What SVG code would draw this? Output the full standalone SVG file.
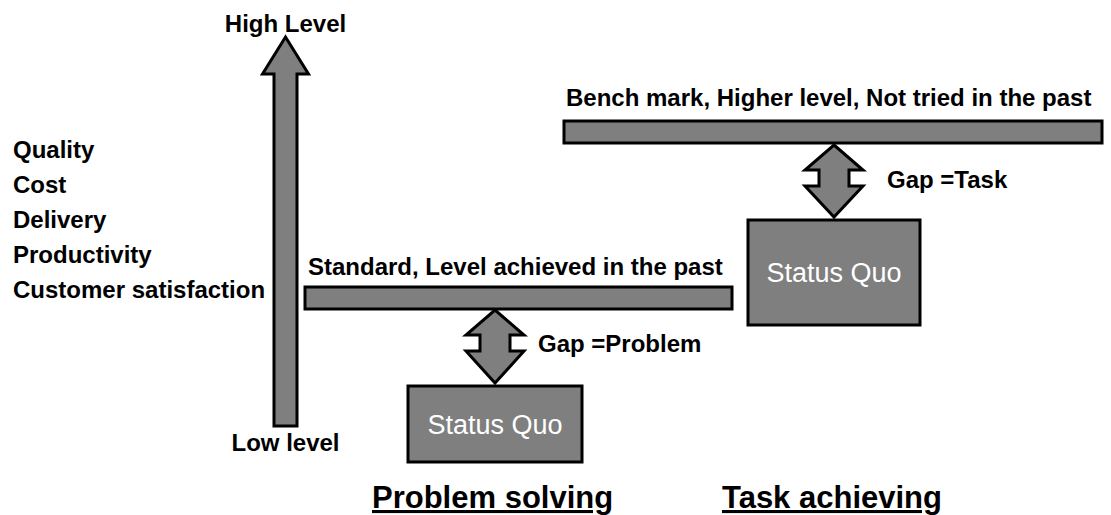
<svg xmlns="http://www.w3.org/2000/svg" width="1111" height="515" viewBox="0 0 1111 515">
<style>
.shape{fill:#7f7f7f;stroke:#000;stroke-width:3;stroke-linejoin:miter}
.lbl{font-family:"Liberation Sans",Arial,sans-serif;font-weight:bold;font-size:24px;fill:#000}
.sq{font-family:"Liberation Sans",Arial,sans-serif;font-size:27px;fill:#fff}
.title{font-family:"Liberation Sans",Arial,sans-serif;font-weight:bold;font-size:31px;fill:#000;text-decoration:underline}
</style>
<rect width="1111" height="515" fill="#fff"/>
<g id="axis">
<path class="shape" d="M285.5,37 L308.5,74 L297,74 L297,426 L274,426 L274,74 L262.5,74 Z"/>
<text class="lbl" x="285.5" y="32" text-anchor="middle">High Level</text>
<text class="lbl" x="285.5" y="451" text-anchor="middle">Low level</text>
</g>
<g id="metrics">
<text class="lbl" x="13" y="158">Quality</text>
<text class="lbl" x="13" y="193">Cost</text>
<text class="lbl" x="13" y="228">Delivery</text>
<text class="lbl" x="13" y="263">Productivity</text>
<text class="lbl" x="13" y="298">Customer satisfaction</text>
</g>
<g id="standard">
<rect class="shape" x="305" y="287" width="427" height="22"/>
<text class="lbl" x="308" y="275">Standard, Level achieved in the past</text>
</g>
<g id="benchmark">
<rect class="shape" x="564" y="121" width="538" height="22"/>
<text class="lbl" x="566" y="106">Bench mark, Higher level, Not tried in the past</text>
</g>
<g id="statusquo1">
<rect class="shape" x="408" y="386" width="174" height="76"/>
<text class="sq" x="495" y="434" text-anchor="middle">Status Quo</text>
</g>
<g id="statusquo2">
<rect class="shape" x="748" y="220" width="172" height="105"/>
<text class="sq" x="834" y="282" text-anchor="middle">Status Quo</text>
</g>
<g id="connectors">
<path class="shape" d="M495,310 L524,335 L510,335 L510,351 L524,351 L495,383 L466,351 L480,351 L480,335 L466,335 Z"/>
<path class="shape" d="M834,145 L863,170 L849,170 L849,186 L863,186 L834,217 L805,186 L819,186 L819,170 L805,170 Z"/>
</g>
<g id="gaplabels">
<text class="lbl" x="538" y="352">Gap =Problem</text>
<text class="lbl" x="887" y="188">Gap =Task</text>
</g>
<g id="titles">
<text class="title" x="372" y="508">Problem solving</text>
<text class="title" x="722" y="508">Task achieving</text>
</g>
</svg>
